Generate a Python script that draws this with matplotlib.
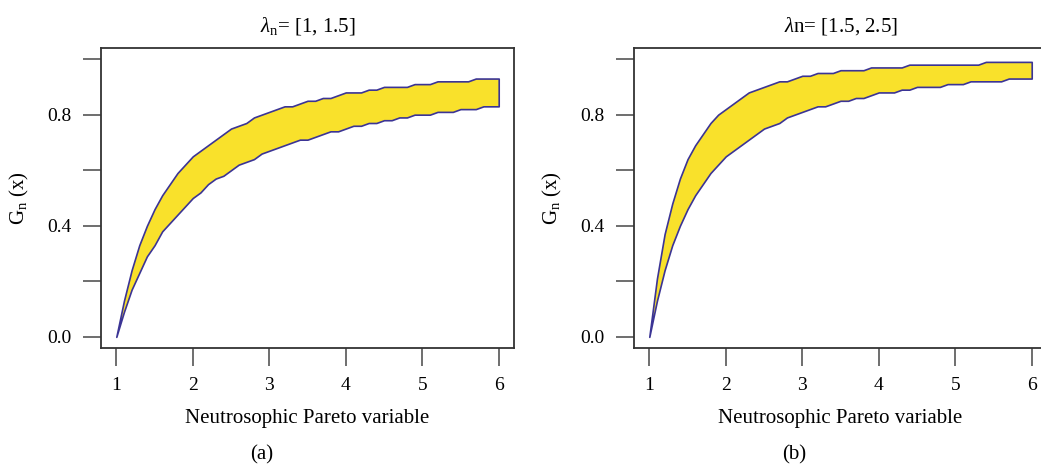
import matplotlib
matplotlib.use("Agg")
import matplotlib.pyplot as plt

plt.rcParams['font.family'] = ['Liberation Serif', 'DejaVu Serif']
plt.rcParams['mathtext.fontset'] = 'custom'
plt.rcParams['mathtext.rm'] = 'Liberation Serif'
plt.rcParams['mathtext.it'] = 'Liberation Serif:italic'

# valeurs (pas de 0.1 sur x)
x = [1.0, 1.1, 1.2, 1.3, 1.4, 1.5, 1.6, 1.7, 1.8, 1.9,
     2.0, 2.1, 2.2, 2.3, 2.4, 2.5, 2.6, 2.7, 2.8, 2.9,
     3.0, 3.1, 3.2, 3.3, 3.4, 3.5, 3.6, 3.7, 3.8, 3.9,
     4.0, 4.1, 4.2, 4.3, 4.4, 4.5, 4.6, 4.7, 4.8, 4.9,
     5.0, 5.1, 5.2, 5.3, 5.4, 5.5, 5.6, 5.7, 5.8, 5.9, 6.0]

# panneau (a) : lambda_n = [1, 1.5]
bas_a = [0.00, 0.09, 0.17, 0.23, 0.29, 0.33, 0.38, 0.41, 0.44, 0.47,
         0.50, 0.52, 0.55, 0.57, 0.58, 0.60, 0.62, 0.63, 0.64, 0.66,
         0.67, 0.68, 0.69, 0.70, 0.71, 0.71, 0.72, 0.73, 0.74, 0.74,
         0.75, 0.76, 0.76, 0.77, 0.77, 0.78, 0.78, 0.79, 0.79, 0.80,
         0.80, 0.80, 0.81, 0.81, 0.81, 0.82, 0.82, 0.82, 0.83, 0.83, 0.83]
haut_a = [0.00, 0.13, 0.24, 0.33, 0.40, 0.46, 0.51, 0.55, 0.59, 0.62,
          0.65, 0.67, 0.69, 0.71, 0.73, 0.75, 0.76, 0.77, 0.79, 0.80,
          0.81, 0.82, 0.83, 0.83, 0.84, 0.85, 0.85, 0.86, 0.86, 0.87,
          0.88, 0.88, 0.88, 0.89, 0.89, 0.90, 0.90, 0.90, 0.90, 0.91,
          0.91, 0.91, 0.92, 0.92, 0.92, 0.92, 0.92, 0.93, 0.93, 0.93, 0.93]

# panneau (b) : lambda_n = [1.5, 2.5]
bas_b = haut_a
haut_b = [0.00, 0.21, 0.37, 0.48, 0.57, 0.64, 0.69, 0.73, 0.77, 0.80,
          0.82, 0.84, 0.86, 0.88, 0.89, 0.90, 0.91, 0.92, 0.92, 0.93,
          0.94, 0.94, 0.95, 0.95, 0.95, 0.96, 0.96, 0.96, 0.96, 0.97,
          0.97, 0.97, 0.97, 0.97, 0.98, 0.98, 0.98, 0.98, 0.98, 0.98,
          0.98, 0.98, 0.98, 0.98, 0.99, 0.99, 0.99, 0.99, 0.99, 0.99, 0.99]

titres = [r'$\lambda_{\rm n}$= [1, 1.5]', r'$\lambda$n= [1.5, 2.5]']
lettres = ['(a)', '(b)']
xticks = [1, 2, 3, 4, 5, 6]
yticks = [0.0, 0.2, 0.4, 0.6, 0.8, 1.0]
ylabels = ['0.0', '', '0.4', '', '0.8', '']

jaune = '#F9E12B'
bleu = '#3B3495'

W, H = 1041, 474
fig = plt.figure(figsize=(W / 100, H / 100), dpi=100)

gauches = [101, 634]
centres_lettre = [262, 794]
panneaux = [(bas_a, haut_a), (bas_b, haut_b)]

for k in range(2):
    ax = fig.add_axes([gauches[k] / W, (H - 348) / H, 413 / W, 300 / H])
    bas, haut = panneaux[k]
    ax.fill_between(x, bas, haut, facecolor=jaune, edgecolor=bleu, linewidth=1.2)
    ax.set_xlim(0.8, 6.2)
    ax.set_ylim(-0.04, 1.04)
    ax.set_xticks(xticks)
    ax.set_yticks(yticks)
    ax.set_yticklabels(ylabels)
    ax.tick_params(length=13, width=1.2, color='#555555', labelsize=14, pad=8)
    for s in ax.spines.values():
        s.set_color('#333333')
        s.set_linewidth(1.3)
    ax.set_title(titres[k], fontsize=15, pad=12)
    ax.set_xlabel('Neutrosophic Pareto variable', fontsize=15, labelpad=11)
    ax.set_ylabel(r'G$_{\rm n}$ (x)', fontsize=15, labelpad=12)
    fig.text(centres_lettre[k] / W, 1 - 455 / H, lettres[k], fontsize=15,
             ha='center', va='center')

fig.savefig('out.png', dpi=100)
